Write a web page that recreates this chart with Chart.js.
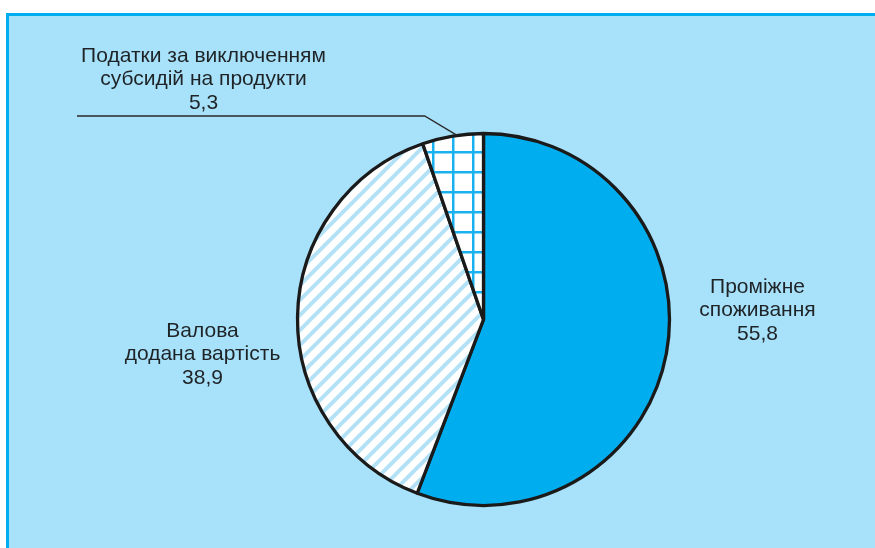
<!DOCTYPE html>
<html>
<head>
<meta charset="utf-8">
<script src="https://cdn.jsdelivr.net/npm/chart.js@4"></script>
<style>
  html, body { margin: 0; padding: 0; background: #fff; }
  #chart { display: block; }
</style>
</head>
<body>
<canvas id="chart" width="875" height="548"></canvas>
<script>
// Structure of GDP by production elements, %
const categories = ['Проміжне споживання', 'Валова додана вартість', 'Податки за виключенням субсидій на продукти'];
const values = [55.8, 38.9, 5.3];
const labelLines = [
    ['Проміжне', 'споживання'],
    ['Валова', 'додана вартість'],
    ['Податки за виключенням', 'субсидій на продукти']
];

const BLUE = '#00aeef';
const PANEL = '#a8e1fa';

function stripePattern(ctx) {
    const c = document.createElement('canvas');
    c.width = 15; c.height = 15;
    const g = c.getContext('2d');
    g.fillStyle = '#fff';
    g.fillRect(0, 0, 15, 15);
    g.strokeStyle = '#b3e1f6';
    g.lineWidth = 4;
    g.beginPath();
    g.moveTo(-3, 18); g.lineTo(18, -3);
    g.moveTo(-3, 3); g.lineTo(3, -3);
    g.moveTo(12, 18); g.lineTo(18, 12);
    g.stroke();
    return ctx.createPattern(c, 'repeat');
}

function gridPattern(ctx) {
    const c = document.createElement('canvas');
    c.width = 20; c.height = 20;
    const g = c.getContext('2d');
    g.fillStyle = '#fff';
    g.fillRect(0, 0, 20, 20);
    g.fillStyle = '#1ab2ee';
    g.fillRect(12, 0, 2.5, 20);
    g.fillRect(0, 11, 20, 2.5);
    return ctx.createPattern(c, 'repeat');
}

// light blue panel with a frame on the left and top
const framePlugin = {
    id: 'frame',
    beforeDraw(chart) {
        const ctx = chart.ctx;
        ctx.save();
        ctx.fillStyle = '#fff';
        ctx.fillRect(0, 0, chart.width, chart.height);
        ctx.fillStyle = PANEL;
        ctx.fillRect(7, 14, chart.width, chart.height);
        ctx.strokeStyle = BLUE;
        ctx.lineWidth = 3;
        ctx.beginPath();
        ctx.moveTo(7.5, chart.height);
        ctx.lineTo(7.5, 14.5);
        ctx.lineTo(chart.width, 14.5);
        ctx.stroke();
        ctx.restore();
    }
};

// label offsets from pie centre (first baseline)
const labelPos = [
    { dx: 274, dy: -26.5 },
    { dx: -281, dy: 17.5 },
    { dx: -280, dy: -257.5 }
];

const labelPlugin = {
    id: 'sliceLabels',
    afterDraw(chart) {
        const ctx = chart.ctx;
        const arcs = chart.getDatasetMeta(0).data;
        const cx = arcs[0].x, cy = arcs[0].y;
        ctx.save();
        ctx.fillStyle = '#1e2326';
        ctx.font = '21px "Liberation Sans", Arial, sans-serif';
        ctx.textAlign = 'center';
        ctx.textBaseline = 'alphabetic';
        labelPos.forEach((p, i) => {
            const lines = labelLines[i].concat([values[i].toFixed(1).replace('.', ',')]);
            lines.forEach((t, k) => ctx.fillText(t, cx + p.dx, cy + p.dy + k * 23.3));
        });

        // leader line for the small slice
        const a = arcs[2];
        const mid = (a.startAngle + a.endAngle) / 2;
        const px = cx + Math.cos(mid) * a.outerRadius;
        const py = cy + Math.sin(mid) * a.outerRadius;
        ctx.strokeStyle = '#2a2a2a';
        ctx.lineWidth = 1.3;
        ctx.beginPath();
        ctx.moveTo(px + 4, py - 1);
        ctx.lineTo(px - 28, cy - 203.5);
        ctx.lineTo(cx - 406.5, cy - 203.5);
        ctx.stroke();
        ctx.restore();
    }
};

const canvas = document.getElementById('chart');
const ctx = canvas.getContext('2d');

new Chart(ctx, {
    type: 'pie',
    data: {
        labels: categories,
        datasets: [{
            data: values,
            backgroundColor: [BLUE, stripePattern(ctx), gridPattern(ctx)],
            borderColor: '#1a1a1a',
            borderWidth: 3.3,
            hoverOffset: 0
        }]
    },
    options: {
        responsive: false,
        devicePixelRatio: 1,
        animation: false,
        radius: 186,
        layout: { padding: { left: 92, right: 0, top: 91, bottom: 0 } },
        plugins: {
            legend: { display: false },
            tooltip: { enabled: false }
        }
    },
    plugins: [framePlugin, labelPlugin]
});
</script>
</body>
</html>
